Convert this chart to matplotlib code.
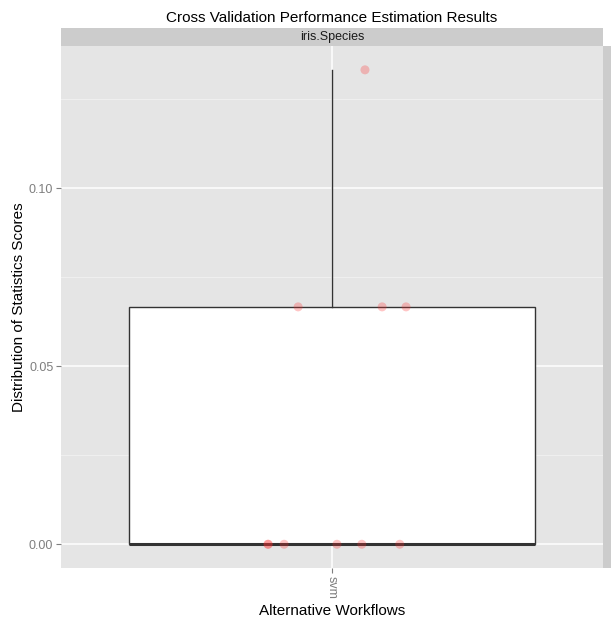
import numpy as np
import matplotlib.pyplot as plt
from matplotlib.patches import Rectangle

plt.rcParams['font.family'] = ['Liberation Sans', 'DejaVu Sans']

# fold scores (10-fold CV error) and their jittered x positions
scores = [0.0, 0.0, 0.0, 0.0, 0.0, 0.0, 0.0667, 0.0667, 0.0667, 0.1333]
jitter_x = [0.858, 0.859, 0.894, 1.011, 1.066, 1.150, 0.925, 1.111, 1.164, 1.073]
workflows = ["svm"]
yticks = [0.00, 0.05, 0.10]
ytick_labels = ["0.00", "0.05", "0.10"]
minor_ticks = [0.025, 0.075, 0.125]

W, H = 611, 619
fig = plt.figure(figsize=(W / 100, H / 100), dpi=100)
left, right, top, bottom = 61, 603, 46, 568
ax = fig.add_axes([left / W, 1 - bottom / H, (right - left) / W, (bottom - top) / H])
ax.set_facecolor('#E5E5E5')
for s in ax.spines.values():
    s.set_visible(False)

ymin, ymax = -0.00667, 0.14
ax.set_ylim(ymin, ymax)
ax.set_xlim(0.4, 1.6)

for m in minor_ticks:
    ax.axhline(m, color='#F2F2F2', lw=0.6, zorder=0)
for t in yticks:
    ax.axhline(t, color='white', lw=1.1, zorder=0)
ax.axvline(1, color='white', lw=1.1, zorder=0)

# box statistics
q1, med, q3 = np.percentile(scores, [25, 50, 75])
hi = max(v for v in scores if v <= q3 + 1.5 * (q3 - q1))
box_w = 0.9
ax.add_patch(Rectangle((1 - box_w / 2, q1), box_w, q3 - q1, facecolor='white',
                       edgecolor='#333333', lw=1.0, zorder=2))
ax.plot([1, 1], [q3, hi], color='#333333', lw=1.0, zorder=2)
ax.plot([1 - box_w / 2, 1 + box_w / 2], [med, med], color='#333333', lw=2.2, zorder=3,
        solid_capstyle='butt')

ax.scatter(jitter_x, scores, s=42, color='#FF3030', alpha=0.28, edgecolors='none', zorder=4)

ax.set_yticks(yticks)
ax.set_yticklabels(ytick_labels)
ax.set_xticks([1])
ax.set_xticklabels(workflows, rotation=-90)
ax.tick_params(axis='both', colors='#7F7F7F', labelsize=9, length=3.5, width=0.8, pad=2)
ax.set_xlabel("Alternative Workflows", fontsize=11, labelpad=4)
ax.set_ylabel("Distribution of Statistics Scores", fontsize=11, labelpad=2)

# facet strips
strip = fig.add_axes([left / W, 1 - top / H, (right - left) / W, 18 / H])
strip.set_facecolor('#CCCCCC')
strip.set_xticks([])
strip.set_yticks([])
for s in strip.spines.values():
    s.set_visible(False)
strip.text(0.5, 0.5, "iris.Species", ha='center', va='center', fontsize=9, color='#1A1A1A')

rstrip = fig.add_axes([right / W, 1 - bottom / H, 18 / W, (bottom - top) / H])
rstrip.set_facecolor('#CCCCCC')
rstrip.set_xticks([])
rstrip.set_yticks([])
for s in rstrip.spines.values():
    s.set_visible(False)
rstrip.text(0.5, 0.5, "err", ha='center', va='center', rotation=-90, fontsize=9,
            color='#1A1A1A', clip_on=False)

fig.text(332 / W, 1 - 18 / H, "Cross Validation Performance Estimation Results",
         ha='center', va='center', fontsize=11)

fig.savefig("out.png", dpi=100)
